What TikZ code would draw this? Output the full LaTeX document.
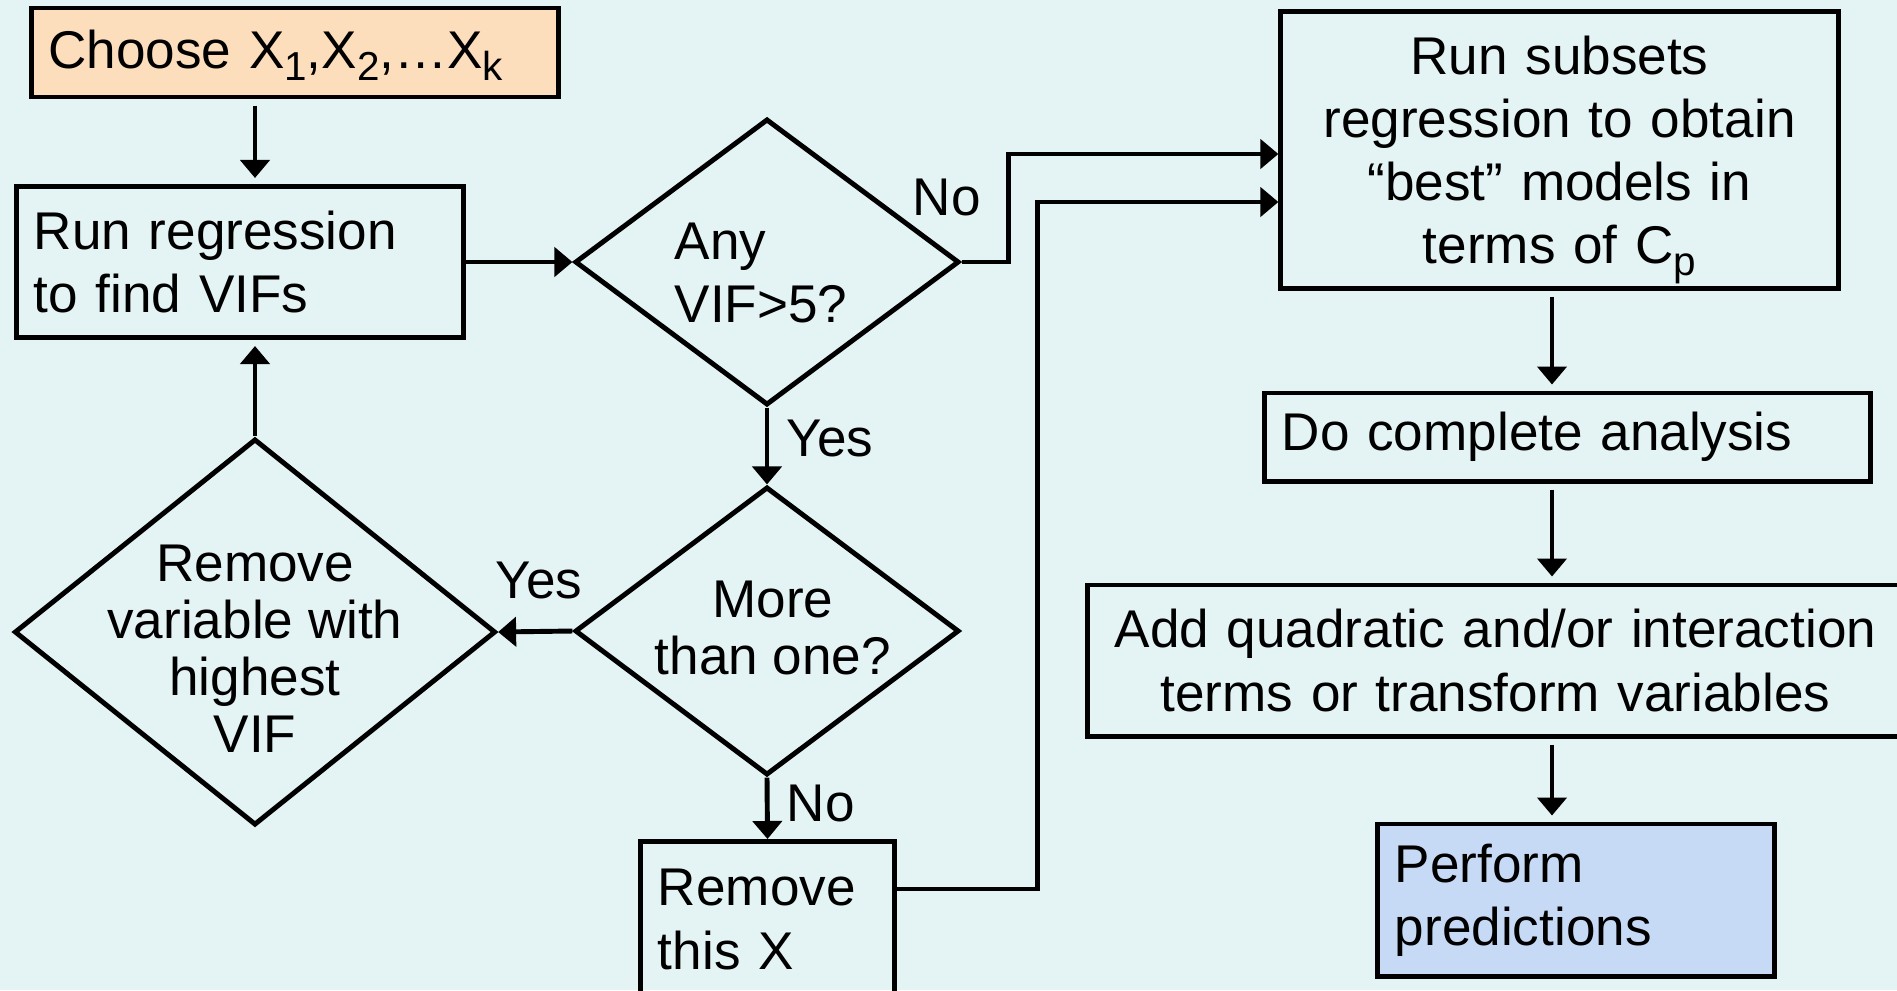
\documentclass[tikz,border=0pt]{standalone}
\usepackage{fontspec}
\setmainfont{Liberation Sans}
\usetikzlibrary{shapes.geometric}
\usetikzlibrary{arrows.meta}
\usetikzlibrary{calc}

\definecolor{bgcol}{RGB}{228,243,244}
\definecolor{peach}{RGB}{253,222,188}
\definecolor{paleblue}{RGB}{199,218,245}

\newcommand\boxfont{\fontsize{15.1pt}{18pt}\selectfont}
\newcommand\tightfont{\fontsize{15.1pt}{16.2pt}\selectfont}
\newcommand\lowidx[1]{\smash{\raisebox{-3.4pt}{\fontsize{11.5pt}{11.5pt}\selectfont #1}}}

\tikzset{
	box/.style={draw, rectangle, line width=1.4pt, inner ysep=0pt, inner xsep=0.17cm, font=\boxfont},
	ask/.style={draw, diamond, line width=1.4pt, inner sep=0pt},
	asktext/.style={inner sep=0pt, font=\boxfont, align=center},
	answer/.style={anchor=base west, inner sep=0pt, font=\boxfont},
	arr/.style={line width=1.4pt, -{Triangle[length=0.18cm, width=0.29cm]}},
	spaced/.style={shorten <=0.06cm, shorten >=0.06cm},
}

\begin{document}
\begin{tikzpicture}[x=0.01cm, y=-0.01cm]

	\useasboundingbox (0,0) rectangle (1897,990);
	\fill[bgcol] (0,0) rectangle (1897,990);
	\clip (0,0) rectangle (1897,990);

	% left part: VIF loop
	\node[box, fill=peach, text width=4.93cm, minimum height=0.89cm, align=left] (choose) at (295,52.5) {Choose X\lowidx{1},X\lowidx{2},…X\lowidx{k}};
	\node[box, text width=4.12cm, minimum height=1.51cm, align=left] (runreg) at (240,262) {Run regression\\to find VIFs};

	\node[ask, minimum width=3.84cm, minimum height=2.86cm] (anyq) at (767,262) {};
	\node[asktext, align=left] (anyt) at (761,273) {Any\\VIF>5?};

	\node[ask, minimum width=3.84cm, minimum height=2.88cm] (moreq) at (767,631) {};
	\node[asktext, font=\tightfont] (moret) at (773,628) {More\\than one?};

	\node[ask, minimum width=4.81cm, minimum height=3.86cm] (remvar) at (255,632) {};
	\node[asktext, font=\tightfont] (remvart) at (255,649) {Remove\\variable with\\highest\\VIF};

	\node[box, anchor=north, text width=2.19cm, minimum height=1.56cm, align=left] (remx) at (767.5,839) {Remove\\this X};

	% right part
	\node[box, text width=5.23cm, minimum height=2.76cm, align=center] (subsets) at (1559.5,150) {Run subsets\\regression to obtain\\“best” models in\\terms of C\lowidx{p}};
	\node[box, text width=5.71cm, minimum height=0.88cm, align=left] (docomp) at (1567.5,437) {Do complete analysis};
	\node[box, text width=7.81cm, minimum height=1.51cm, align=center] (addq) at (1495.5,660.5) {Add quadratic and/or interaction\\terms or transform variables};
	\node[box, fill=paleblue, text width=3.62cm, minimum height=1.52cm, align=left] (perform) at (1576,900) {Perform\\predictions};

	\coordinate (in1) at ($(subsets.west)+(0,4)$);
	\coordinate (in2) at ($(subsets.west)+(0,52)$);
	\coordinate (spine) at (1552,0);

	% answers
	\node[answer] (no1) at (912,215) {No};
	\node[answer] (yes1) at (786,456) {Yes};
	\node[answer] (yes2) at (495,598) {Yes};
	\node[answer] (no2) at (786,821) {No};

	% connectors
	\draw[arr, spaced] (choose.south -| remvar.north) -- (runreg.north -| remvar.north);
	\draw[arr, shorten >=0.06cm] (remvar.north) -- (runreg.south -| remvar.north);
	\draw[arr] (runreg.east) -- (anyq.west);
	\draw[arr] (anyq.south) -- (moreq.north);
	\draw[arr] (moreq.west) -- (remvar.east);
	\draw[arr] (moreq.south) -- (remx.north);
	\draw[arr] (anyq.east) -- ++(47,0) |- (in1);
	\draw[arr] ($(remx.north east)+(0,50)$) -| ([xshift=-2.41cm]in2) -- (in2);

	\draw[arr, spaced] (subsets.south -| spine) -- (docomp.north -| spine);
	\draw[arr, spaced] (docomp.south -| spine) -- (addq.north -| spine);
	\draw[arr, spaced] (addq.south -| spine) -- (perform.north -| spine);

\end{tikzpicture}
\end{document}
